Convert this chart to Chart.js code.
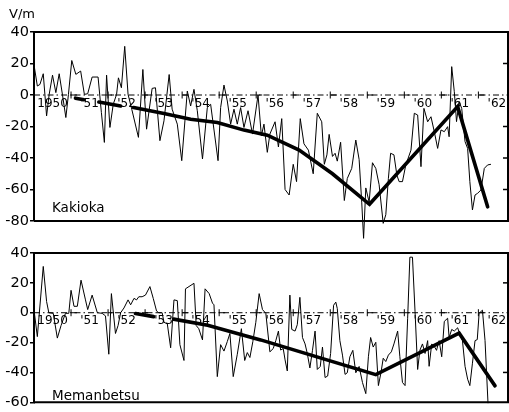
<!DOCTYPE html>
<html><head><meta charset="utf-8">
<script src="https://cdn.jsdelivr.net/npm/chart.js@4.4.0/dist/chart.umd.min.js"></script>
<style>
html,body{margin:0;padding:0;background:#fff;}
#wrap{position:relative;width:509px;height:412px;overflow:hidden;}
canvas{position:absolute;left:0;top:0;}
</style>
</head><body>
<div id="wrap"><canvas id="c1" width="509" height="412"></canvas><canvas id="c2" width="509" height="412"></canvas></div>
<script>
// ---------- data (years after BASE_YEAR, values in V/m) ----------
const BASE_YEAR = 1950;
const yearLabels = ['1950', "'51", "'52", "'53", "'54", "'55", "'56", "'57", "'58", "'59", "'60", "'61", "'62"];
const yearStarts = [1950, 1951, 1952, 1953, 1954, 1955, 1956, 1957, 1958, 1959, 1960, 1961, 1962];
const kakTicks = [40, 20, 0, -20, -40, -60, -80];
const memTicks = [40, 20, 0, -20, -40, -60];

const kakT = [0.01,0.09,0.16,0.25,0.34,0.41,0.50,0.59,0.68,0.77,0.86,0.93,1.02,1.13,1.26,1.36,1.45,1.57,1.73,1.82,
  1.90,1.96,2.05,2.14,2.23,2.28,2.36,2.45,2.54,2.64,2.82,2.94,3.04,3.19,3.28,3.40,3.51,3.65,3.73,3.87,
  3.99,4.14,4.23,4.32,4.41,4.55,4.68,4.77,4.97,5.04,5.13,5.22,5.31,5.40,5.49,5.58,5.67,5.78,5.90,6.05,
  6.14,6.21,6.30,6.37,
  6.51,6.60,6.69,6.78,6.89,7.0,7.09,7.19,7.29,7.41,7.54,7.65,7.77,7.84,7.91,7.97,8.06,8.13,8.19,8.28,
  8.38,8.46,8.58,8.69,8.78,8.85,8.90,8.96,9.05,9.14,9.23,9.32,9.43,9.50,9.57,9.63,9.72,9.80,9.86,9.95,
  10.04,10.18,10.27,10.36,10.45,10.53,10.63,10.72,10.81,10.90,10.99,11.08,11.17,11.21,11.28,11.35,11.41,11.48,11.55,11.64,
  11.71,11.77,11.84,11.91,11.98,12.07,12.16,12.25,12.34];
const kakV = [17.7,5.7,6.7,13.5,-13.3,0.4,12.6,1.5,13.5,0,-14.3,0.4,21.9,13.1,15.2,0.4,0.8,11.4,11.4,-11.2,
  -30.1,12.6,-20.6,-5.9,0.4,10.9,4.6,30.9,0.4,-9,-26.9,16.2,-21.7,4.2,4.6,-29,-16.4,13,-9,-18.5,
  -41.7,2.5,-7,3.6,-10,-40.6,-8,-5.9,-41.7,-8,6.3,-3.8,-18.5,-9,-18.5,-8,-20.6,-10,-24.8,0,
  -25.9,-18.5,-36.4,-24.8,
  -17,-33,-15,-60,-63.5,-44,-55,-15,-31,-35,-50,-11.6,-17,-44,-38,-25,-39,-37,-42,-30,
  -67,-53,-46.6,-28.6,-41,-68,-91,-59,-68,-43,-46.6,-57,-81.5,-76,-53,-37,-38,-51,-55,-55,
  -44.4,-35,-11.6,-12.7,-45.5,-8.5,-17,-13.8,-23.3,-33.9,-22.2,-23.3,-20.1,-26.5,18,2.1,-16.9,-4.2,-8.5,-29.6,
  -33.9,-55,-73,-63.5,-62.4,-60.3,-46.6,-44.4,-44];

const kakTrendT = [1.12,1.35,1.5,1.75,2.34,2.5,2.69,3.51,4.23,4.95,5.67,6.3,7.16,8.06,9.06,11.44,12.25];
const kakTrendV = [-2,-3,null,-4.5,-7,null,-8,-11.8,-15.4,-17.5,-22.3,-25.5,-35,-50,-69.4,-7.4,-71];

const memT = [0.01,0.09,0.25,0.34,0.40,0.52,0.63,0.73,0.85,0.94,1.0,1.08,1.17,1.27,1.39,1.45,1.57,1.71,1.84,1.93,
  2.02,2.09,2.20,2.27,2.34,2.43,2.54,2.61,2.70,2.77,2.83,2.92,3.01,3.13,3.22,3.31,3.37,3.46,3.51,3.60,
  3.69,3.78,3.87,3.94,4.05,4.09,4.32,4.38,4.45,4.55,4.62,4.73,4.82,4.86,4.95,5.04,5.13,5.22,5.29,5.38,
  5.49,5.60,5.69,5.76,5.83,5.91,5.99,6.08,6.17,6.26,
  6.37,6.46,6.53,6.60,6.66,6.73,6.78,6.84,6.91,6.96,7.05,7.11,7.18,7.25,7.32,7.38,7.45,7.52,7.59,7.65,
  7.73,7.79,7.86,7.93,8.01,8.09,8.15,8.19,8.26,8.33,8.40,8.46,8.53,8.61,8.69,8.78,8.87,8.96,9.03,9.09,
  9.16,9.23,9.30,9.37,9.43,9.50,9.57,9.65,9.72,9.82,9.88,9.95,10.02,10.09,10.15,10.22,10.29,10.36,10.42,10.49,
  10.56,10.63,10.67,10.74,10.82,10.87,10.94,11.01,11.08,11.17,11.21,11.28,11.35,11.44,11.50,11.57,11.64,11.71,11.77,11.84,
  11.91,11.97,12.02,12.11,12.18,12.26];
const memV = [0,-16,31,7.5,0,-0.4,-17,-8.6,-0.4,-0.4,15,4.3,4.3,21.8,8.6,2.1,11.8,0,-0.4,-2.1,
  -27.8,12.8,-13.9,-8.6,0,3.2,8.6,5.3,9.6,8.6,10.7,10.7,11.8,17.5,9.6,1.1,0,0,-6.4,-7.5,
  -23.5,8.6,8.1,-21.4,-32,16,19.7,-8.6,-10.7,-18.2,16,12.8,6.4,5.3,-42.8,-21.4,-25.7,-19.3,-13.9,-42.8,
  -27.8,-10.7,-32,-26.7,-30,-19.3,-6.4,12.8,2.1,-0.4,
  -26.2,-24,-18.7,-12.3,-25,-24,-31.6,-39,11.8,-11.2,-12.3,-8,10.3,-16.6,-20.9,-27.3,-37,-25.2,-12.3,-38,
  -36,-23,-43.4,-42.4,-27.3,5,7.1,2.8,-18.7,-28.4,-41.3,-40.2,-29.5,-25.2,-40.2,-36,-46.7,-54.2,-29.5,-16.6,
  -23,-19.8,-48.8,-40.2,-30.5,-32.7,-28.4,-26.2,-20.9,-12.3,-29.5,-46.7,-48.8,-3.7,37.2,37.2,0.6,-38,-25.2,-20.9,
  -27.3,-18.7,-35.9,-20.9,-23,-25.2,-18.7,-29.5,-5.8,-3.7,-16.6,-11.2,-12.3,-10.1,-14.4,-18.7,-35.9,-44.5,-48.8,-33.8,
  -18.7,-18,-0.4,1.7,-18.7,-60.6];

const memTrendT = [2.74,3.23,3.5,3.77,4.69,6.12,9.23,11.48,12.45];
const memTrendV = [-0.5,-2.6,null,-4.3,-8.4,-18.2,-41.5,-13.7,-49];

// ---------- helpers ----------
const pts = (ts, vs) => ts.map((t, i) => ({ x: BASE_YEAR + t, y: vs[i] }));
const FONT = '"DejaVu Sans", "Liberation Sans", sans-serif';

const decor = {
  id: 'decor',
  beforeDatasetsDraw(chart, args, o) {
    const { ctx, chartArea: a, scales: { x, y } } = chart;
    const y0 = y.getPixelForValue(0);
    ctx.save();
    ctx.strokeStyle = '#000';
    ctx.lineWidth = 1;
    ctx.setLineDash([6, 3, 1.5, 3]);
    ctx.beginPath(); ctx.moveTo(a.left, y0); ctx.lineTo(a.right, y0); ctx.stroke();
    ctx.setLineDash([]);
    yearStarts.forEach((yr, i) => {
      if (i === 0) return;
      const px = x.getPixelForValue(yr);
      ctx.beginPath(); ctx.moveTo(px, y0 - 3.5); ctx.lineTo(px, y0 + 3.5); ctx.stroke();
      ctx.beginPath(); ctx.moveTo(px, y0); ctx.lineTo(px + 6, y0); ctx.stroke();
    });
    ctx.font = '12px ' + FONT;
    ctx.fillStyle = '#000';
    ctx.textAlign = 'center';
    ctx.textBaseline = 'top';
    yearLabels.forEach((lab, i) => {
      ctx.fillText(lab, x.getPixelForValue(yearStarts[i] + 0.5), y0 + 2.5);
    });
    ctx.restore();
  },
  afterDraw(chart, args, o) {
    const { ctx, chartArea: a, scales: { y } } = chart;
    ctx.save();
    ctx.strokeStyle = '#000';
    ctx.lineWidth = 2;
    ctx.beginPath();
    ctx.moveTo(a.left, a.top); ctx.lineTo(a.right, a.top);
    ctx.lineTo(a.right, a.bottom); ctx.lineTo(a.left, a.bottom);
    ctx.stroke();
    ctx.lineWidth = 1.5;
    y.ticks.forEach(t => {
      if (t.value === y.max || t.value === y.min || t.value === 0) return;
      const py = y.getPixelForValue(t.value);
      ctx.beginPath(); ctx.moveTo(a.right - 5, py); ctx.lineTo(a.right, py); ctx.stroke();
    });
    ctx.fillStyle = '#000';
    ctx.textAlign = 'left';
    ctx.textBaseline = 'alphabetic';
    ctx.font = '13.5px ' + FONT;
    ctx.fillText(o.name, o.nameX, o.nameY);
    if (o.unit) { ctx.font = '13px ' + FONT; ctx.fillText(o.unit, 9, 18); }
    ctx.restore();
  }
};

function makeChart(id, dataPts, trendPts, ymin, ymax, padTop, padBottom, name, nameY, unit) {
  return new Chart(document.getElementById(id), {
    type: 'line',
    data: {
      datasets: [
        { data: dataPts, borderColor: '#000', borderWidth: 1, pointRadius: 0, tension: 0, clip: false, spanGaps: false },
        { data: trendPts, borderColor: '#000', borderWidth: 3.6, pointRadius: 0, tension: 0, clip: false, spanGaps: false, borderCapStyle: 'round' }
      ]
    },
    options: {
      responsive: false,
      animation: false,
      devicePixelRatio: 1,
      layout: { padding: { left: 0, right: 1, top: padTop, bottom: padBottom } },
      plugins: { legend: { display: false }, tooltip: { enabled: false },
        decor: { name: name, nameX: 52, nameY: nameY, unit: unit } },
      scales: {
        x: { type: 'linear', min: BASE_YEAR, max: BASE_YEAR + 12.8, display: false },
        y: {
          min: ymin, max: ymax,
          afterBuildTicks(s) { s.ticks = (ymin === -80 ? kakTicks : memTicks).map(v => ({ value: v })); },
          ticks: { color: '#000', font: { family: FONT, size: 14.5 }, padding: 1, callback: v => String(v) },
          grid: { drawOnChartArea: false, drawTicks: true, tickLength: 4, color: '#000', lineWidth: 1.5 },
          border: { display: true, color: '#000', width: 2 },
          afterFit(s) { s.width = 34; }
        }
      }
    },
    plugins: [decor]
  });
}

makeChart('c1', pts(kakT, kakV), pts(kakTrendT, kakTrendV), -80, 40, 32, 412 - 221, 'Kakioka', 212, 'V/m');
makeChart('c2', pts(memT, memV), pts(memTrendT, memTrendV), -60, 40, 253, 4, 'Memanbetsu', 400, null);
</script>
</body></html>
